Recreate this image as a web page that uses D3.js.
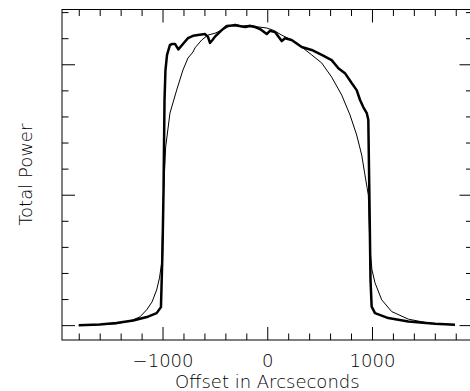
<!DOCTYPE html>
<html>
<head>
<meta charset="utf-8">
<script src="https://cdn.jsdelivr.net/npm/d3@7"></script>
<style>
  body { margin: 0; background: #fff; }
  text { font-family: "DejaVu Sans", sans-serif; font-weight: 200; fill: #000; }
</style>
</head>
<body>
<div id="chart"></div>
<script>
// scan profiles (offset in arcsec, total power in arbitrary units)
const offsetThick = [-1800, -1600, -1440, -1280, -1150, -1056, -1015, -1000, -991, -981, -972, -957, -929, -905, -881, -849, -805, -757, -709, -661, -594, -566, -547, -523, -499, -435, -387, -308, -212, -165, -117, -69, -5, 26, 74, 138, 170, 233, 329, 424, 520, 615, 679, 742, 806, 854, 886, 917, 950, 965, 976, 986, 997, 1029, 1156, 1347, 1602, 1793];
const powerThick  = [0.0, 0.02, 0.08, 0.18, 0.31, 0.46, 0.69, 2.9, 5.03, 8.63, 9.78, 10.36, 10.74, 10.78, 10.78, 10.57, 10.78, 11.0, 11.09, 11.12, 11.16, 11.05, 10.82, 10.93, 11.06, 11.31, 11.47, 11.5, 11.43, 11.47, 11.43, 11.35, 11.16, 11.28, 11.24, 10.89, 11.0, 10.93, 10.66, 10.55, 10.36, 10.16, 9.85, 9.66, 9.28, 9.01, 8.63, 8.36, 8.13, 7.87, 4.8, 1.74, 0.71, 0.46, 0.27, 0.14, 0.05, 0.01];

const offsetThin = [-1800, -1600, -1440, -1282, -1215, -1151, -1100, -1056, -1029, -1008, -991, -970, -929, -865, -805, -757, -709, -690, -626, -566, -499, -435, -380, -308, -240, -165, -100, -5, 60, 138, 233, 329, 424, 520, 615, 711, 790, 854, 902, 933, 965, 974, 981, 1000, 1029, 1093, 1188, 1347, 1538, 1793];
const powerThin  = [0.0, 0.02, 0.05, 0.2, 0.32, 0.59, 0.89, 1.35, 1.81, 2.39, 5.03, 6.83, 8.13, 9.01, 9.78, 10.24, 10.47, 10.63, 10.93, 11.12, 11.19, 11.31, 11.42, 11.54, 11.46, 11.5, 11.44, 11.39, 11.3, 11.12, 10.93, 10.66, 10.36, 10.05, 9.51, 8.82, 8.06, 7.29, 6.52, 5.76, 4.99, 3.84, 2.89, 2.12, 1.62, 0.97, 0.52, 0.23, 0.08, 0.01];

const xMajor = [-1000, 0, 1000];
const xMinor = [-1800, -1600, -1400, -1200, -800, -600, -400, -200, 200, 400, 600, 800, 1200, 1400, 1600, 1800];
const yMajor = [0, 5, 10];
const yMinor = [1, 2, 3, 4, 6, 7, 8, 9, 11, 12];

const w = 470, h = 391;
const margin = { top: 9.5, right: -2.5, bottom: 51, left: 62 };

const svg = d3.select("#chart")
    .append("svg")
    .attr("width", w)
    .attr("height", h);

const xScale = d3.scaleLinear()
    .domain([-1960, 1960])
    .range([margin.left, w - margin.right]);

const yScale = d3.scaleLinear()
    .domain([-0.57, 12.1])
    .range([h - margin.bottom, margin.top]);

const x0 = xScale.range()[0], x1 = xScale.range()[1];
const y0 = yScale.range()[0], y1 = yScale.range()[1];

// ejes con marcas hacia dentro
function addAxis(axis, tx, ty) {
    const g = svg.append("g")
        .attr("transform", `translate(${tx},${ty})`)
        .call(axis);
    g.select(".domain").remove();
    g.selectAll("line").attr("stroke", "#000").attr("stroke-width", 1);
    return g;
}

const bottomMaj = addAxis(d3.axisBottom(xScale).tickValues(xMajor).tickSize(-13)
    .tickFormat(d => d < 0 ? "\u2212" + Math.abs(d) : d), 0, y0);
bottomMaj.selectAll("text")
    .attr("y", 26.5).attr("dy", 0)
    .style("font-size", "18px")
    .style("font-family", "DejaVu Sans, sans-serif");
addAxis(d3.axisBottom(xScale).tickValues(xMinor).tickSize(-6.5).tickFormat(""), 0, y0);

addAxis(d3.axisTop(xScale).tickValues(xMajor).tickSize(-13).tickFormat(""), 0, y1);
addAxis(d3.axisTop(xScale).tickValues(xMinor).tickSize(-6.5).tickFormat(""), 0, y1);

addAxis(d3.axisLeft(yScale).tickValues(yMajor).tickSize(-13).tickFormat(""), x0, 0);
addAxis(d3.axisLeft(yScale).tickValues(yMinor).tickSize(-6.5).tickFormat(""), x0, 0);
addAxis(d3.axisRight(yScale).tickValues(yMajor).tickSize(-13).tickFormat(""), x1, 0);
addAxis(d3.axisRight(yScale).tickValues(yMinor).tickSize(-6.5).tickFormat(""), x1, 0);

// marco
svg.append("rect")
    .attr("x", x0)
    .attr("y", y1)
    .attr("width", x1 - x0)
    .attr("height", y0 - y1)
    .attr("fill", "none")
    .attr("stroke", "#000")
    .attr("stroke-width", 1);

// curvas
const line = d3.line()
    .x(d => xScale(d[0]))
    .y(d => yScale(d[1]));

svg.append("path")
    .datum(d3.zip(offsetThin, powerThin))
    .attr("fill", "none")
    .attr("stroke", "#000")
    .attr("stroke-width", 1)
    .attr("d", line);

svg.append("path")
    .datum(d3.zip(offsetThick, powerThick))
    .attr("fill", "none")
    .attr("stroke", "#000")
    .attr("stroke-width", 2.5)
    .attr("stroke-linejoin", "round")
    .attr("d", line);

// títulos
svg.append("text")
    .attr("x", xScale(0))
    .attr("y", 388)
    .style("text-anchor", "middle")
    .style("font-size", "18px")
    .text("Offset in Arcseconds");

svg.append("text")
    .attr("transform", `translate(32,${(y0 + y1) / 2}) rotate(-90)`)
    .style("text-anchor", "middle")
    .style("font-size", "18px")
    .text("Total Power");
</script>
</body>
</html>
